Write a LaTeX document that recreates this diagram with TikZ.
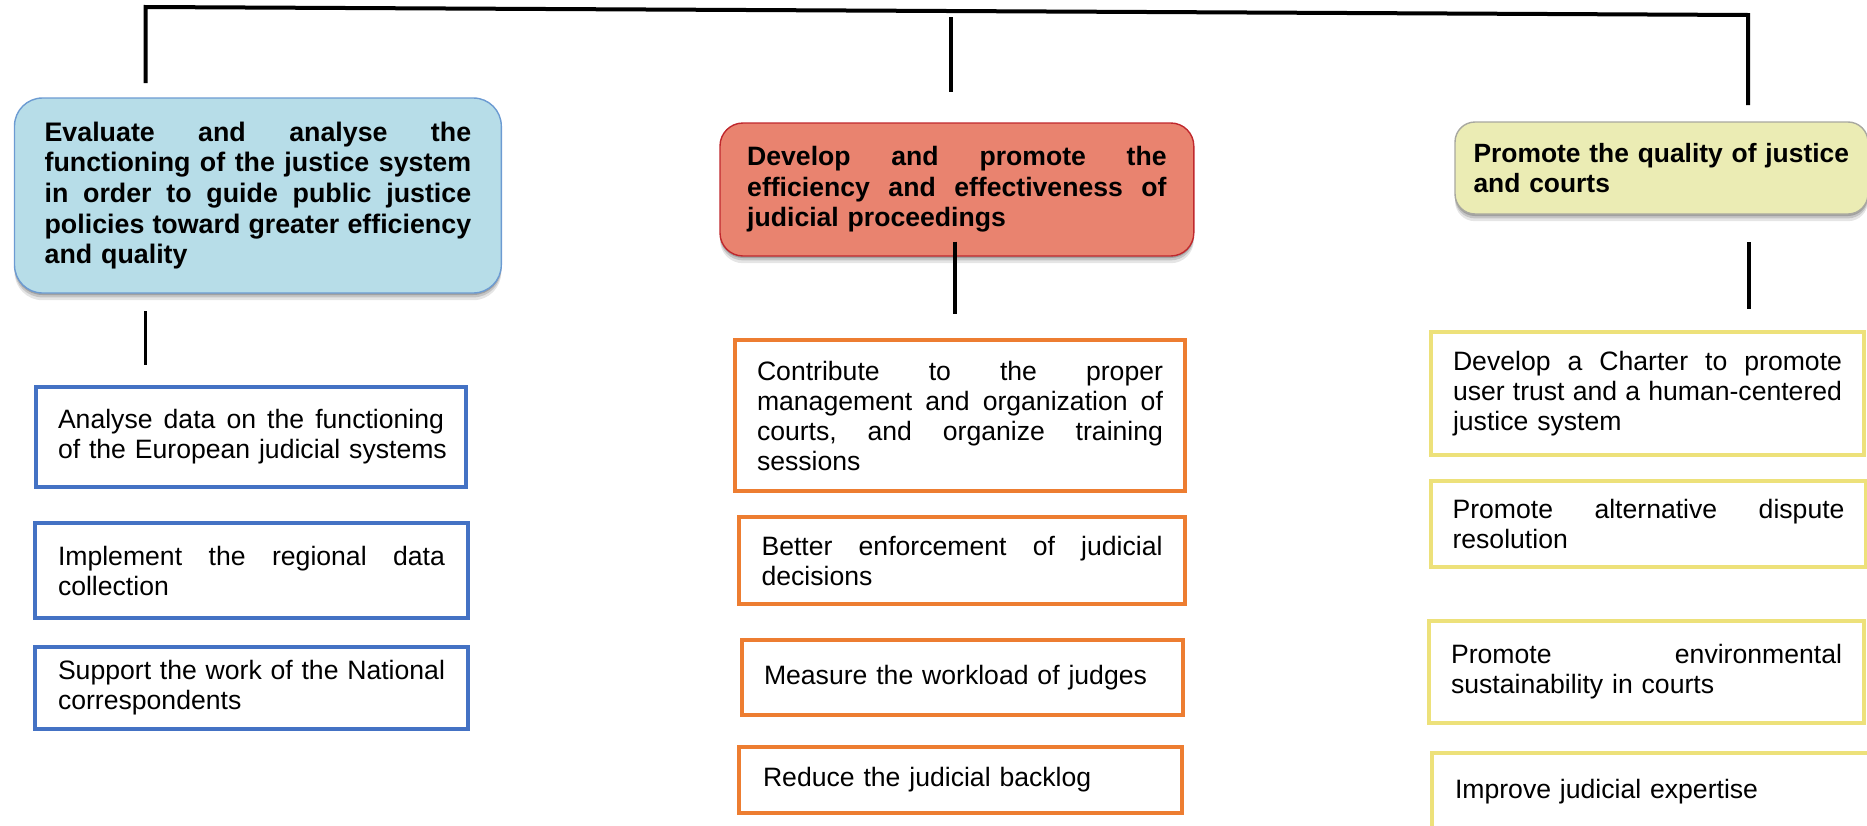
\documentclass[tikz,border=0pt]{standalone}
\usepackage{fontspec}
\setmainfont{Liberation Sans}
\usetikzlibrary{shadows}

\definecolor{bluefill}{HTML}{B7DDE8}
\definecolor{blueedge}{HTML}{6C9BD2}
\definecolor{redfill}{HTML}{E9836F}
\definecolor{rededge}{HTML}{C0282D}
\definecolor{yellowfill}{HTML}{EBECB4}
\definecolor{yellowedge}{HTML}{A8A8A0}
\definecolor{taskblue}{HTML}{4472C4}
\definecolor{taskorange}{HTML}{ED7D31}
\definecolor{taskyellow}{HTML}{EDE17A}

% \jl: one fully justified line (the spaces become \hfill), \nl: one line at natural width
\newcommand{\rowwidth}{10pt}
\def\jlsplit#1 #2\jlend{#1\ifx\relax#2\relax\else\hfill\jlsplit#2\jlend\fi}
\newcommand{\jl}[1]{\leavevmode\hbox to \rowwidth{\jlsplit#1 \jlend}\\}
\newcommand{\nl}[1]{\mbox{#1}}

\begin{document}
\begin{tikzpicture}[x=0.5pt,y=-0.5pt,
  tw/.style={text width=#1,execute at begin node={\def\rowwidth{#1}}},
  softshadow/.style={
    drop shadow={shadow xshift=0pt,shadow yshift=-1pt,opacity=.18,fill=black},
    drop shadow={shadow xshift=0pt,shadow yshift=-2.2pt,opacity=.14,fill=black},
    drop shadow={shadow xshift=0pt,shadow yshift=-3.6pt,opacity=.10,fill=black}},
  goal/.style={draw,line width=0.7pt,inner sep=0pt,align=left,softshadow,
    font=\bfseries\fontsize{13.3pt}{15.2pt}\selectfont},
  task/.style={draw,fill=white,line width=1.65pt,inner sep=0pt,align=left,
    font=\fontsize{13.3pt}{15pt}\selectfont},
  bluetask/.style={task,draw=taskblue},
  orangetask/.style={task,draw=taskorange},
  yellowtask/.style={task,draw=taskyellow},
  link/.style={line width=1.9pt,black},
  bracket/.style={line width=2pt,black}]

\useasboundingbox (0,0) rectangle (1867,825);
\clip (0,0) rectangle (1867,825);

% ---- goals ----
\node[goal,fill=bluefill,draw=blueedge,rounded corners=14pt,
  font=\bfseries\fontsize{13.4pt}{15.35pt}\selectfont,
  minimum width=243.4pt,minimum height=97.5pt,tw=213.3pt] (g1) at (257.9,195.5)
  {\jl{Evaluate and analyse the}\jl{functioning of the justice system}\jl{in order to guide public justice}\jl{policies toward greater efficiency}\nl{and quality}};

\node[goal,fill=redfill,draw=rededge,rounded corners=11.5pt,
  minimum width=236.9pt,minimum height=66.5pt,tw=209.7pt] (g2) at (956.9,189.5)
  {\jl{Develop and promote the}\jl{efficiency and effectiveness of}\nl{judicial proceedings}};

\node[goal,fill=yellowfill,draw=yellowedge,rounded corners=10pt,
  font=\bfseries\fontsize{13.2pt}{15.4pt}\selectfont,
  minimum width=206.5pt,minimum height=46pt,tw=188pt] (g3) at (1661.5,168)
  {\nl{Promote the quality of justice}\\\nl{and courts}};

% ---- tasks, first column ----
\node[bluetask,minimum width=215pt,minimum height=50pt,tw=193pt] (a1) at (251,437)
  {\jl{Analyse data on the functioning}\nl{of the European judicial systems}};
\node[bluetask,minimum width=216.5pt,minimum height=47.5pt,tw=193.5pt] (a2) at (251.5,570.5)
  {\jl{Implement the regional data}\nl{collection}};
\node[bluetask,minimum width=216.5pt,minimum height=41pt,tw=193.5pt] (a3) at (251.5,688)
  {\jl{Support the work of the National}\nl{correspondents}};

% ---- tasks, second column ----
\node[orangetask,minimum width=225pt,minimum height=75.5pt,tw=203pt] (b1) at (960,415.5)
  {\jl{Contribute to the proper}\jl{management and organization of}\jl{courts, and organize training}\nl{sessions}};
\node[orangetask,minimum width=223pt,minimum height=43.5pt,tw=200.5pt] (b2) at (962,560.5)
  {\jl{Better enforcement of judicial}\nl{decisions}};
\node[orangetask,minimum width=220.5pt,minimum height=37.5pt,tw=198.5pt] (b3) at (962.5,677.5)
  {\nl{Measure the workload of judges}};
\node[orangetask,minimum width=221.5pt,minimum height=33pt,tw=197.5pt] (b4) at (960.5,780)
  {\nl{Reduce the judicial backlog}};

% ---- tasks, third column ----
\node[yellowtask,minimum width=216.5pt,minimum height=61.5pt,tw=194.5pt] (c1) at (1647.5,393.5)
  {\jl{Develop a Charter to promote}\jl{user trust and a human-centered}\nl{justice system}};
\node[yellowtask,minimum width=217.5pt,minimum height=43pt,tw=196pt] (c2) at (1648.5,524)
  {\jl{Promote alternative dispute}\nl{resolution}};
\node[yellowtask,minimum width=217.5pt,minimum height=51pt,tw=195.5pt] (c3) at (1646.5,672)
  {\jl{Promote environmental}\nl{sustainability in courts}};
\node[yellowtask,minimum width=219pt,minimum height=39pt,tw=196pt] (c4) at (1651,792)
  {\nl{Improve judicial expertise}};

% ---- connectors ----
\coordinate (leftfoot) at (145.5,83);
\coordinate (lefttop) at (145.5,7);
\coordinate (righttop) at (1748,15);
\coordinate (rightfoot) at (1748,105);
\draw[bracket,line join=miter] (leftfoot) -- (lefttop) -- (righttop) -- (rightfoot);

\coordinate (midtop) at (951,17);
\coordinate (midfoot) at (951,92);
\draw[link] (midtop) -- (midfoot);

\coordinate (g1down) at (145.5,311);
\coordinate (a1up) at (145.5,365);
\draw[link] (g1down) -- (a1up);

\coordinate (g2down) at (955,241.5);
\coordinate (b1up) at (955,314);
\draw[link] (g2down) -- (b1up);

\coordinate (g3down) at (1749,242);
\coordinate (c1up) at (1749,309);
\draw[link] (g3down) -- (c1up);

\end{tikzpicture}
\end{document}
